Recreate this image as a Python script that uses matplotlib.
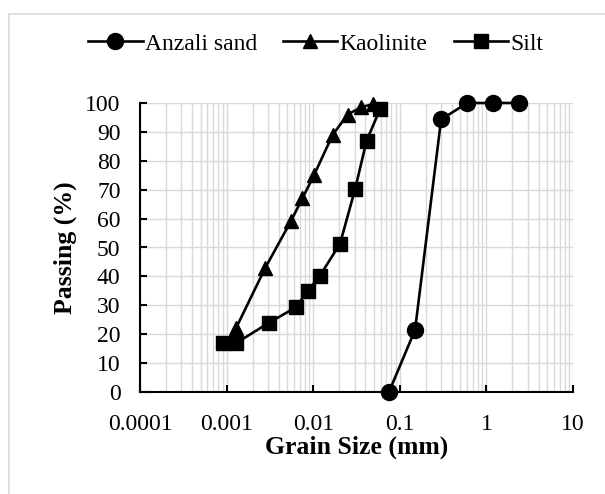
import numpy as np
import matplotlib.pyplot as plt
from matplotlib.patches import Rectangle
from matplotlib.ticker import LogLocator, NullFormatter

plt.rcParams['font.family'] = ['Liberation Serif', 'DejaVu Serif']

# grain size distributions (mm, % passing)
sand_d = [0.075, 0.15, 0.3, 0.6, 1.18, 2.36]
sand_p = [0, 21.5, 94.3, 100, 100, 100]

kaol_d = [0.00128, 0.0028, 0.0055, 0.0075, 0.0102, 0.0168, 0.025, 0.0356, 0.0484]
kaol_p = [22, 43, 59, 67, 75, 89, 96, 98.5, 99.6]

silt_d = [0.00091, 0.0013, 0.0031, 0.0063, 0.0087, 0.012, 0.0204, 0.0306, 0.0413, 0.059]
silt_p = [17, 17, 24, 29.3, 35, 40.3, 51.3, 70.4, 86.9, 97.8]

xticks = [0.0001, 0.001, 0.01, 0.1, 1, 10]
xtick_labels = ['0.0001', '0.001', '0.01', '0.1', '1', '10']
yticks = list(range(0, 101, 10))

fig = plt.figure(figsize=(6.05, 4.94), dpi=100)
fig.patches.append(Rectangle((9 / 605, -0.1), 1.2, 1 - 14 / 494 + 0.1, transform=fig.transFigure,
                             fill=False, edgecolor='#d9d9d9', linewidth=1.2))
ax = fig.add_axes([140 / 605, 1 - 392 / 494, 433 / 605, 289 / 494])

lw = 1.9
ax.plot(sand_d, sand_p, color='black', lw=lw, marker='o', ms=11.5, label='Anzali sand', clip_on=False, zorder=3)
ax.plot(kaol_d, kaol_p, color='black', lw=lw, marker='^', ms=10.5, label='Kaolinite', clip_on=False, zorder=3)
ax.plot(silt_d, silt_p, color='black', lw=lw, marker='s', ms=10, label='Silt', clip_on=False, zorder=3)

ax.set_xscale('log')
ax.set_xlim(0.0001, 10)
ax.set_ylim(0, 100)
ax.set_xticks(xticks)
ax.set_xticklabels(xtick_labels)
ax.xaxis.set_minor_locator(LogLocator(base=10, subs=np.arange(2, 10)))
ax.xaxis.set_minor_formatter(NullFormatter())
ax.set_yticks(yticks)

ax.grid(True, which='major', color='#d9d9d9', lw=1)
ax.grid(True, which='minor', axis='x', color='#d9d9d9', lw=1)
ax.set_axisbelow(True)

for s in ['top', 'right']:
    ax.spines[s].set_visible(False)
for s in ['left', 'bottom']:
    ax.spines[s].set_linewidth(1.5)
ax.tick_params(which='major', direction='in', length=5, width=1.5, labelsize=17)
ax.tick_params(axis='y', pad=14)
ax.tick_params(axis='x', pad=16)
ax.tick_params(which='minor', length=0)

ax.set_xlabel('Grain Size (mm)', fontsize=18.5, fontweight='bold', labelpad=0)
ax.set_ylabel('Passing (%)', fontsize=18.5, fontweight='bold', labelpad=6)

fig.legend(loc='center', bbox_to_anchor=(0.522, 1 - 44 / 494), ncol=3, frameon=False, fontsize=17,
           handlelength=2.3, handletextpad=0.1, columnspacing=1.1, markerscale=1.0)

plt.savefig('out.png', dpi=100)
